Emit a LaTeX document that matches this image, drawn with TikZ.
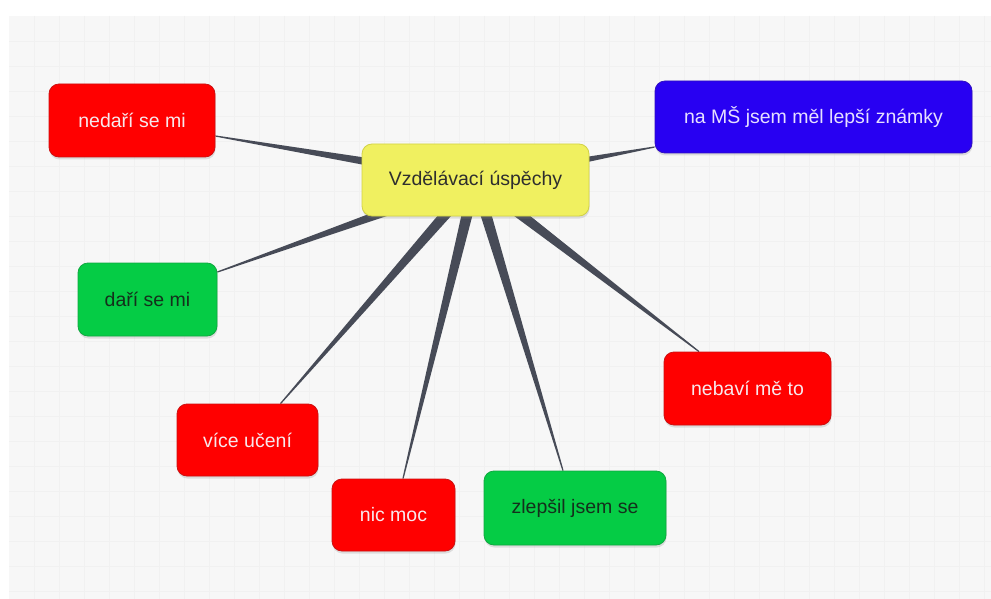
\documentclass[tikz,border=0pt]{standalone}
\usepackage{fontspec}
\setmainfont{Liberation Sans}
\usetikzlibrary{calc,shadows}
\pgfdeclarelayer{bg}
\pgfsetlayers{bg,main}
\definecolor{bgcol}{HTML}{F7F7F7}
\definecolor{gridcol}{HTML}{F1F1F1}
\definecolor{wedgecol}{HTML}{474B57}
\definecolor{redfill}{HTML}{FF0000}
\definecolor{redline}{HTML}{CC1010}
\definecolor{bluefill}{HTML}{2800F2}
\definecolor{blueline}{HTML}{3010C0}
\definecolor{greenfill}{HTML}{05CC45}
\definecolor{greenline}{HTML}{10A840}
\definecolor{yelfill}{HTML}{F0F060}
\definecolor{yelline}{HTML}{D2D245}
\definecolor{lighttext}{HTML}{F8E8EC}
\definecolor{bluetext}{HTML}{E6E0FF}
\definecolor{greentext}{HTML}{14301C}
\definecolor{yeltext}{HTML}{2E2E2E}
\tikzset{
  box/.style={rounded corners=10pt, line width=0.8pt, inner sep=0pt,
    font=\fontsize{19.5}{22}\selectfont,
    drop shadow={opacity=0.22, shadow xshift=0.5pt, shadow yshift=-2.5pt}},
  redbox/.style={box, fill=redfill, draw=redline, text=lighttext},
  bluebox/.style={box, fill=bluefill, draw=blueline, text=bluetext},
  greenbox/.style={box, fill=greenfill, draw=greenline, text=greentext},
  yelbox/.style={box, fill=yelfill, draw=yelline, text=yeltext}
}
\newcommand\wedgeto[2]{\fill[wedgecol] ($(#1)!6pt!90:(#2)$) -- ($(#1)!6pt!-90:(#2)$) -- ($(#2)!0.6pt!90:(#1)$) -- ($(#2)!0.6pt!-90:(#1)$) -- cycle;}
\begin{document}
\begin{tikzpicture}[x=1pt,y=-1pt]
\useasboundingbox (0,0) rectangle (991,599);

\node[yelbox, minimum width=227pt, minimum height=72pt] (c) at (475.5,180) {Vzdělávací úspěchy};
\node[redbox, minimum width=166pt, minimum height=73pt] (n1) at (132,120.5) {nedaří se mi};
\node[bluebox, minimum width=317pt, minimum height=72pt] (n2) at (813.5,117) {na MŠ jsem měl lepší známky};
\node[greenbox, minimum width=139pt, minimum height=73pt] (n3) at (147.5,299.5) {daří se mi};
\node[redbox, minimum width=141pt, minimum height=72pt] (n4) at (247.5,440) {více učení};
\node[redbox, minimum width=123pt, minimum height=72pt] (n5) at (393.5,515) {nic moc};
\node[greenbox, minimum width=182pt, minimum height=74pt] (n6) at (575,508) {zlepšil jsem se};
\node[redbox, minimum width=167pt, minimum height=73pt] (n7) at (747.5,388.5) {nebaví mě to};

\coordinate (e1) at ([yshift=-15.5pt]n1.east);
\coordinate (e2) at ([yshift=-30pt]n2.west);
\coordinate (e3) at ([yshift=27.5pt]n3.east);
\coordinate (e4) at ([xshift=33pt]n4.north);
\coordinate (e5) at ([xshift=9.5pt]n5.north);
\coordinate (e6) at ([xshift=-12pt]n6.north);
\coordinate (e7) at ([xshift=-48.5pt]n7.north);

\begin{pgfonlayer}{bg}
\fill[white] (0,0) rectangle (991,599);
\fill[bgcol] (9,16) rectangle (991,599);
\begin{scope}
\clip (9,16) rectangle (991,599);
\foreach \gx in {34,59,...,991} \draw[gridcol, line width=0.5pt] (\gx,16) -- (\gx,599);
\foreach \gy in {41,66,...,599} \draw[gridcol, line width=0.5pt] (9,\gy) -- (991,\gy);
\end{scope}
\wedgeto{c}{e1}
\wedgeto{c}{e2}
\wedgeto{c}{e3}
\wedgeto{c}{e4}
\wedgeto{c}{e5}
\wedgeto{c}{e6}
\wedgeto{c}{e7}
\end{pgfonlayer}
\end{tikzpicture}
\end{document}
